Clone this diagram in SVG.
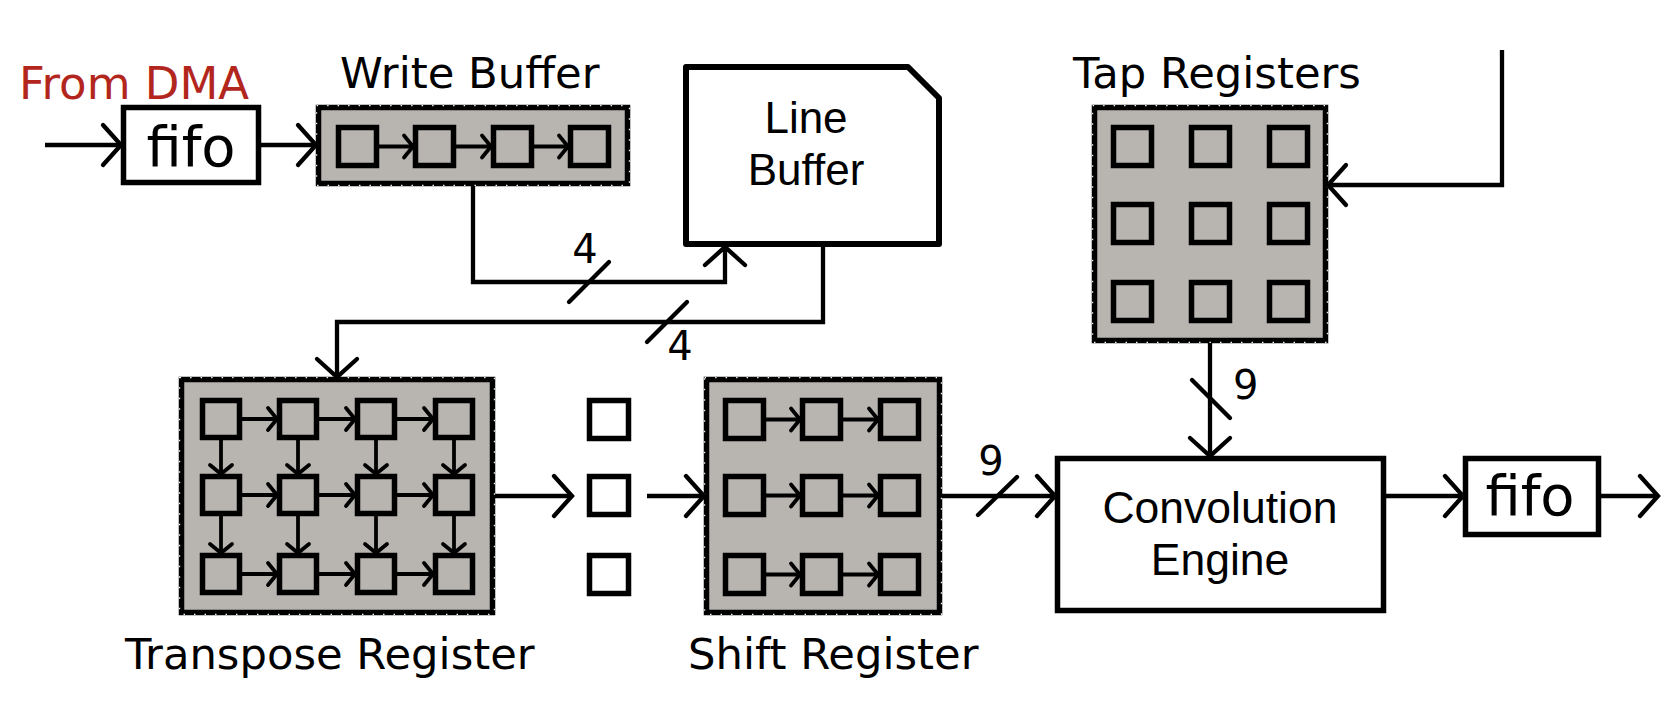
<svg xmlns="http://www.w3.org/2000/svg" width="1678" height="710" viewBox="0 0 1678 710">
<defs>
<style>
.lbl{font-family:"DejaVu Sans",Verdana,sans-serif;font-size:43.3px;fill:#000}
.red{fill:#b3261e;font-size:45px}
.fifo{font-family:"DejaVu Sans",Verdana,sans-serif;font-size:56px;text-anchor:middle}
.ar{font-family:"Liberation Sans",Arial,sans-serif;font-size:44px;text-anchor:middle}
.num{font-family:"DejaVu Sans",Verdana,sans-serif;font-size:40px}
.box{fill:#fff;stroke:#000;stroke-width:5.5}
.gbox{fill:#b8b5b0;stroke:#000;stroke-width:5.5}
.gdash{fill:none;stroke:#f0f0f0;stroke-width:1.2;stroke-dasharray:1.5 9}
.sq{fill:#b8b5b0;stroke:#000;stroke-width:5.5}
.wsq{fill:#fff;stroke:#000;stroke-width:5.5}
.c{fill:none;stroke:#000;stroke-width:4.3;marker-end:url(#big)}
.cs{fill:none;stroke:#000;stroke-width:3.8;marker-end:url(#small)}
.sl{stroke:#000;stroke-width:4.3;stroke-linecap:round}
</style>
<marker id="big" viewBox="-22 -24 26 48" refX="0" refY="0" markerWidth="26" markerHeight="48" markerUnits="userSpaceOnUse" orient="auto" overflow="visible">
<path d="M-18,-20 L0,0 L-18,20" fill="none" stroke="#000" stroke-width="4.3" stroke-linecap="round"/>
</marker>
<marker id="small" viewBox="-12 -14 16 28" refX="0" refY="0" markerWidth="16" markerHeight="28" markerUnits="userSpaceOnUse" orient="auto" overflow="visible">
<path d="M-9,-11 L0,0 L-9,11" fill="none" stroke="#000" stroke-width="3.8" stroke-linecap="round"/>
</marker>
</defs>
<rect width="1678" height="710" fill="#fff"/>

<text class="lbl red" x="19" y="99">From DMA</text>

<g id="fifo-in">
<rect class="box" x="123.5" y="107.5" width="135" height="75"/>
<text class="fifo" x="191" y="166">fifo</text>
</g>

<g id="write-buffer">
<text class="lbl" x="340" y="88">Write Buffer</text>
<rect class="gbox" x="318.5" y="107.5" width="309" height="76"/>
<rect class="gdash" x="316.6" y="105.6" width="312.8" height="79.8"/>
<rect class="sq" x="338.5" y="127.5" width="38" height="38"/>
<rect class="sq" x="415.5" y="127.5" width="38" height="38"/>
<rect class="sq" x="493.5" y="127.5" width="38" height="38"/>
<rect class="sq" x="570.5" y="127.5" width="38" height="38"/>
<path class="cs" d="M379,146.5 H413"/>
<path class="cs" d="M456,146.5 H491"/>
<path class="cs" d="M534,146.5 H568"/>
</g>

<g id="line-buffer">
<path d="M686,67 L908,67 L939,98 L939,244 L686,244 Z" fill="#fff" stroke="#000" stroke-width="6" stroke-linejoin="round"/>
<text class="ar" x="806" y="133">Line</text>
<text class="ar" x="806" y="185">Buffer</text>
</g>

<g id="tap-registers">
<text class="lbl" x="1073" y="88">Tap Registers</text>
<rect class="gbox" x="1094.5" y="107.5" width="231" height="233"/>
<rect class="gdash" x="1092.6" y="105.6" width="234.8" height="236.8"/>
<rect class="sq" x="1113.5" y="127.5" width="38" height="38"/>
<rect class="sq" x="1191.5" y="127.5" width="38" height="38"/>
<rect class="sq" x="1269.5" y="127.5" width="38" height="38"/>
<rect class="sq" x="1113.5" y="204.5" width="38" height="38"/>
<rect class="sq" x="1191.5" y="204.5" width="38" height="38"/>
<rect class="sq" x="1269.5" y="204.5" width="38" height="38"/>
<rect class="sq" x="1113.5" y="282.5" width="38" height="38"/>
<rect class="sq" x="1191.5" y="282.5" width="38" height="38"/>
<rect class="sq" x="1269.5" y="282.5" width="38" height="38"/>
</g>

<g id="transpose-register">
<rect class="gbox" x="181.5" y="379.5" width="311" height="233"/>
<rect class="gdash" x="179.6" y="377.6" width="314.8" height="236.8"/>
<g>
<rect class="sq" x="202.5" y="400.5" width="37" height="37"/>
<rect class="sq" x="279.5" y="400.5" width="37" height="37"/>
<rect class="sq" x="357.5" y="400.5" width="37" height="37"/>
<rect class="sq" x="435.5" y="400.5" width="37" height="37"/>
<rect class="sq" x="202.5" y="476.5" width="37" height="37"/>
<rect class="sq" x="279.5" y="476.5" width="37" height="37"/>
<rect class="sq" x="357.5" y="476.5" width="37" height="37"/>
<rect class="sq" x="435.5" y="476.5" width="37" height="37"/>
<rect class="sq" x="202.5" y="555.5" width="37" height="37"/>
<rect class="sq" x="279.5" y="555.5" width="37" height="37"/>
<rect class="sq" x="357.5" y="555.5" width="37" height="37"/>
<rect class="sq" x="435.5" y="555.5" width="37" height="37"/>
</g>
<path class="cs" d="M242,419 H277"/>
<path class="cs" d="M319,419 H355"/>
<path class="cs" d="M397,419 H433"/>
<path class="cs" d="M242,495 H277"/>
<path class="cs" d="M319,495 H355"/>
<path class="cs" d="M397,495 H433"/>
<path class="cs" d="M242,574 H277"/>
<path class="cs" d="M319,574 H355"/>
<path class="cs" d="M397,574 H433"/>
<path class="cs" d="M221,440 V474"/>
<path class="cs" d="M298,440 V474"/>
<path class="cs" d="M376,440 V474"/>
<path class="cs" d="M454,440 V474"/>
<path class="cs" d="M221,516 V553"/>
<path class="cs" d="M298,516 V553"/>
<path class="cs" d="M376,516 V553"/>
<path class="cs" d="M454,516 V553"/>
<text class="lbl" x="125" y="669">Transpose Register</text>
</g>

<g id="column-buffer">
<rect class="wsq" x="589.5" y="400.5" width="39" height="38"/>
<rect class="wsq" x="589.5" y="476.5" width="39" height="38"/>
<rect class="wsq" x="589.5" y="555.5" width="39" height="38"/>
</g>

<g id="shift-register">
<rect class="gbox" x="706.5" y="379.5" width="233" height="233"/>
<rect class="gdash" x="704.6" y="377.6" width="236.8" height="236.8"/>
<rect class="sq" x="725.5" y="400.5" width="38" height="38"/>
<rect class="sq" x="802.5" y="400.5" width="38" height="38"/>
<rect class="sq" x="880.5" y="400.5" width="38" height="38"/>
<rect class="sq" x="725.5" y="476.5" width="38" height="38"/>
<rect class="sq" x="802.5" y="476.5" width="38" height="38"/>
<rect class="sq" x="880.5" y="476.5" width="38" height="38"/>
<rect class="sq" x="725.5" y="555.5" width="38" height="38"/>
<rect class="sq" x="802.5" y="555.5" width="38" height="38"/>
<rect class="sq" x="880.5" y="555.5" width="38" height="38"/>
<path class="cs" d="M766,419.5 H800"/>
<path class="cs" d="M843,419.5 H878"/>
<path class="cs" d="M766,495.5 H800"/>
<path class="cs" d="M843,495.5 H878"/>
<path class="cs" d="M766,574.5 H800"/>
<path class="cs" d="M843,574.5 H878"/>
<text class="lbl" x="688" y="669">Shift Register</text>
</g>

<g id="convolution-engine">
<rect class="box" x="1057.5" y="458.5" width="326" height="152"/>
<text class="ar" x="1220" y="523" style="font-size:44.5px">Convolution</text>
<text class="ar" x="1220" y="575" style="font-size:44.5px">Engine</text>
</g>

<g id="fifo-out">
<rect class="box" x="1465.5" y="458.5" width="133" height="76"/>
<text class="fifo" x="1530" y="515">fifo</text>
</g>

<g id="connectors">
<path class="c" d="M45,145 H121"/>
<path class="c" d="M261,145 H316"/>
<path class="c" d="M473,186 V282 H725 V247"/>
<line class="sl" x1="569" y1="302" x2="609" y2="262"/>
<text class="num" x="585" y="263" text-anchor="middle">4</text>
<path class="c" d="M823,247 V322 H337 V377"/>
<line class="sl" x1="647" y1="342" x2="687" y2="302"/>
<text class="num" x="680" y="360" text-anchor="middle">4</text>
<path class="c" d="M495,496 H572"/>
<path class="c" d="M647,496 H704"/>
<path class="c" d="M942,496 H1055"/>
<line class="sl" x1="978" y1="515" x2="1017" y2="477"/>
<text class="num" x="991" y="475" text-anchor="middle">9</text>
<path class="c" d="M1210,343 V456"/>
<line class="sl" x1="1192" y1="380" x2="1230" y2="418"/>
<text class="num" x="1233" y="399">9</text>
<path class="c" d="M1502,50 V185 H1328"/>
<path class="c" d="M1386,496 H1463"/>
<path class="c" d="M1601,496 H1658"/>
</g>
</svg>
